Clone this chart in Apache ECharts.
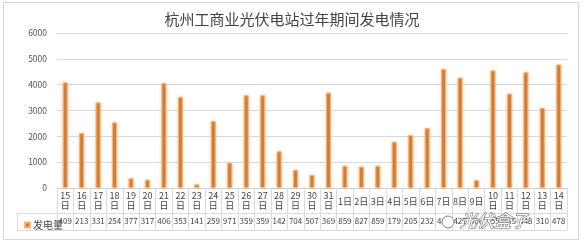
<!DOCTYPE html>
<html><head><meta charset="utf-8">
<script src="https://cdn.jsdelivr.net/npm/echarts@6/dist/echarts.min.js"></script>
<style>html,body{margin:0;padding:0;background:#fff}#c{width:583px;height:245px}</style>
</head><body><div id="c"></div>
<script>
const titleText = '杭州工商业光伏电站过年期间发电情况';
const seriesName = '发电量';
const categories = ['15日','16日','17日','18日','19日','20日','21日','22日','23日','24日','25日','26日','27日','28日','29日','30日','31日',
  '1日','2日','3日','4日','5日','6日','7日','8日','9日','10日','11日','12日','13日','14日'];
const values = [4090,2130,3310,2540,377,317,4060,3530,141,2590,971,3590,3590,1420,704,507,3690,
  859,827,859,1790,2050,2320,4610,4270,306,4550,3650,4480,3100,4780];
const yTicks = {min:0, max:6000, interval:1000};

const chart = echarts.init(document.getElementById('c'));
const font = '"Noto Sans CJK SC", "Microsoft YaHei", sans-serif';
chart.setOption({
  backgroundColor:'#fff',
  animation:false,
  textStyle:{fontFamily:font},
  title:{text:titleText,left:287,textAlign:'center',top:7,textStyle:{fontSize:15,fontWeight:'normal',color:'#444',fontFamily:font}},
  legend:{data:[seriesName],left:19,top:215,icon:'rect',itemWidth:5,itemHeight:5,itemGap:0,textStyle:{fontSize:10,color:'#444',padding:[0,0,0,-2]}},
  grid:{left:57,right:16,top:33,bottom:57},
  xAxis:[
    {type:'category',data:categories,
     axisLine:{lineStyle:{color:'#cfcfcf'}},
     axisTick:{show:true,length:42,lineStyle:{color:'#dcdcdc'}},
     axisLabel:{margin:3,interval:0,color:'#444',fontSize:9,
       formatter:v=> v.length>2 ? '{a|'+v.slice(0,-1)+'}\n{a|日}' : '{b|'+v+'}',
       rich:{a:{fontSize:9,lineHeight:10,color:'#444'},b:{fontSize:9,lineHeight:22,color:'#444'}}}},
    {type:'category',data:values,position:'bottom',offset:25,
     axisLine:{show:true,lineStyle:{color:'#dcdcdc'}},axisTick:{show:false},
     axisLabel:{margin:4,interval:0,color:'#444',fontSize:8,formatter:v=>String(v).slice(0,3)}},
    {type:'category',data:categories,position:'bottom',offset:42,
     axisLine:{show:true,lineStyle:{color:'#dcdcdc'}},axisTick:{show:false},axisLabel:{show:false}}
  ],
  yAxis:{type:'value',min:yTicks.min,max:yTicks.max,interval:yTicks.interval,
    axisLine:{show:false},axisTick:{show:false},
    axisLabel:{color:'#555',fontSize:8.5,margin:10,formatter:v=>String(v)},
    splitLine:{lineStyle:{color:'#d9d9d9'}}},
  series:[{name:seriesName,type:'bar',data:values,barWidth:5,
    itemStyle:{color:'#c4773d',borderColor:'#f2b57a',borderWidth:1,shadowColor:'rgba(255,175,100,0.6)',shadowBlur:3}}],
  graphic:[
    {type:'rect',shape:{x:3.5,y:2.5,width:575,height:237},style:{fill:'none',stroke:'#d6d6d6',lineWidth:1},silent:true,z:-1},
    {type:'line',shape:{x1:17,y1:213.5,x2:57,y2:213.5},style:{stroke:'#dcdcdc',lineWidth:1}},
    {type:'line',shape:{x1:17,y1:230.5,x2:57,y2:230.5},style:{stroke:'#dcdcdc',lineWidth:1}},
    {type:'line',shape:{x1:17.5,y1:213,x2:17.5,y2:231},style:{stroke:'#dcdcdc',lineWidth:1}},
    {type:'circle',shape:{cx:448,cy:222,r:6},style:{fill:'#fff',stroke:'#888',lineWidth:1},z:100},
    {type:'text',x:460,y:212,z:100,style:{text:'光伏盒子',fontSize:17,fontStyle:'italic',fill:'#fff',stroke:'#666',lineWidth:1,fontFamily:font}}
  ]
});
</script></body></html>
